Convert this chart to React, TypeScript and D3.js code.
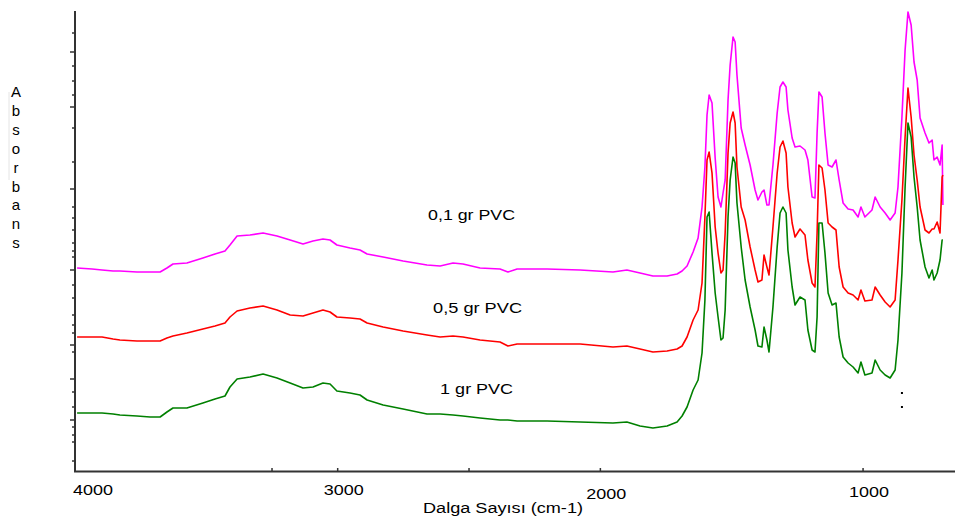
import * as d3 from "d3";

// shared wavenumber grid (cm-1)
const wavenumbers = [
  3992, 3935, 3897, 3855, 3829, 3764, 3714, 3676, 3650, 3627,
  3574, 3513, 3467, 3429, 3410, 3383, 3334, 3284, 3231, 3181,
  3132, 3094, 3056, 3029, 3003, 2953, 2915, 2888, 2827, 2751,
  2660, 2610, 2561, 2523, 2458, 2382, 2352, 2317, 2203, 2077,
  1952, 1899, 1849, 1800, 1746, 1708, 1689, 1670, 1647, 1628,
  1613, 1602, 1594, 1586, 1575, 1563, 1552, 1541, 1533, 1525,
  1514, 1506, 1495, 1487, 1480, 1464, 1449, 1430, 1411, 1400,
  1385, 1377, 1366, 1358, 1343, 1327, 1316, 1305, 1293, 1286,
  1270, 1259, 1240, 1221, 1210, 1194, 1183, 1175, 1168, 1156,
  1145, 1133, 1118, 1103, 1091, 1076, 1057, 1038, 1019, 1008,
  993, 966, 954, 935, 916, 897, 878, 867, 852, 840,
  829, 817, 806, 794, 783, 764, 749, 737, 730, 718,
  707, 699, 696,
];

const pvc01 = [
  2.03, 2.02, 2.01, 2.00, 2.00, 1.99, 1.99, 1.99, 2.03, 2.07,
  2.08, 2.13, 2.17, 2.20, 2.26, 2.35, 2.36, 2.38, 2.35, 2.31,
  2.27, 2.30, 2.32, 2.31, 2.26, 2.23, 2.21, 2.17, 2.14, 2.10,
  2.06, 2.05, 2.08, 2.07, 2.03, 2.02, 1.99, 2.02, 2.02, 2.01,
  1.99, 2.01, 1.98, 1.95, 1.95, 1.97, 2.00, 2.05, 2.19, 2.33,
  2.64, 3.04, 3.56, 3.76, 3.68, 3.13, 2.74, 2.64, 2.78, 2.91,
  3.71, 4.06, 4.34, 4.29, 3.96, 3.43, 3.26, 3.06, 2.81, 2.71,
  2.79, 2.81, 2.66, 2.66, 3.06, 3.58, 3.84, 3.89, 3.84, 3.61,
  3.33, 3.24, 3.25, 3.21, 3.11, 2.74, 2.73, 3.38, 3.79, 3.74,
  3.38, 3.06, 3.04, 3.11, 2.91, 2.68, 2.62, 2.61, 2.54, 2.64,
  2.54, 2.61, 2.74, 2.64, 2.58, 2.51, 2.58, 2.84, 3.54, 4.21,
  4.59, 4.46, 4.09, 3.91, 3.53, 3.38, 3.28, 3.31, 3.11, 3.14,
  3.06, 3.26, 2.66,
];

const pvc05 = [
  1.34, 1.34, 1.34, 1.32, 1.31, 1.30, 1.30, 1.30, 1.33, 1.35,
  1.38, 1.42, 1.45, 1.48, 1.54, 1.60, 1.63, 1.65, 1.61, 1.56,
  1.55, 1.58, 1.61, 1.59, 1.54, 1.53, 1.52, 1.48, 1.44, 1.40,
  1.36, 1.34, 1.35, 1.34, 1.31, 1.29, 1.25, 1.27, 1.27, 1.27,
  1.24, 1.25, 1.22, 1.19, 1.20, 1.22, 1.25, 1.34, 1.51, 1.61,
  1.88, 2.54, 3.11, 3.19, 2.98, 2.44, 2.18, 1.98, 2.01, 2.38,
  3.18, 3.48, 3.59, 3.48, 3.04, 2.64, 2.51, 2.24, 2.01, 1.89,
  1.91, 2.16, 2.04, 1.96, 2.44, 2.98, 3.24, 3.30, 3.18, 2.84,
  2.48, 2.34, 2.42, 2.36, 2.11, 1.88, 1.84, 2.38, 3.06, 3.03,
  2.81, 2.48, 2.44, 2.41, 2.04, 1.84, 1.78, 1.76, 1.71, 1.81,
  1.70, 1.71, 1.84, 1.76, 1.69, 1.64, 1.71, 2.11, 2.71, 3.34,
  3.83, 3.54, 3.16, 2.91, 2.64, 2.41, 2.38, 2.42, 2.42, 2.49,
  2.38, 2.94, 2.96,
];

const pvc1 = [
  0.58, 0.58, 0.58, 0.57, 0.56, 0.55, 0.54, 0.54, 0.59, 0.63,
  0.63, 0.68, 0.72, 0.75, 0.84, 0.92, 0.94, 0.97, 0.93, 0.88,
  0.83, 0.84, 0.88, 0.87, 0.80, 0.78, 0.76, 0.71, 0.66, 0.62,
  0.57, 0.57, 0.56, 0.55, 0.53, 0.51, 0.51, 0.50, 0.50, 0.49,
  0.48, 0.49, 0.45, 0.43, 0.45, 0.49, 0.55, 0.64, 0.81, 0.91,
  1.18, 1.71, 2.54, 2.59, 2.18, 1.78, 1.54, 1.31, 1.33, 1.61,
  2.54, 2.91, 3.14, 3.08, 2.68, 2.24, 1.91, 1.64, 1.41, 1.25,
  1.24, 1.44, 1.31, 1.19, 1.64, 2.24, 2.58, 2.64, 2.58, 2.21,
  1.84, 1.66, 1.74, 1.71, 1.41, 1.21, 1.19, 1.54, 2.48, 2.48,
  2.18, 1.78, 1.66, 1.68, 1.34, 1.14, 1.08, 1.04, 0.98, 1.09,
  0.96, 0.98, 1.11, 1.01, 0.96, 0.93, 1.01, 1.31, 1.98, 2.84,
  3.48, 3.34, 2.94, 2.64, 2.31, 2.04, 1.93, 2.01, 1.91, 1.98,
  2.11, 2.31, 2.31,
];

const seriesNames = ["0,1 gr PVC", "0,5 gr PVC", "1 gr PVC"];
const xTickLabels = [4000, 3000, 2000, 1000];
const xMinorTicks = [3250, 3000, 2500, 2000, 1000];
const yTicks = [
  4.38, 4.19, 4.05, 3.9, 3.76, 3.64, 3.43, 3.09, 2.82, 2.64, 2.53, 2.41, 2.28,
  2.2, 2.14, 2.01, 1.86, 1.73, 1.56, 1.46, 1.38, 1.26, 1.19, 0.92, 0.79, 0.64,
  0.51, 0.44, 0.36, 0.29, 0.1,
];
const yMajorTicks = [4.19, 3.64, 2.82, 2.01, 1.26, 0.92, 0.51];
const strayDots = [[852, 0.78], [852, 0.64]];

// label anchors in data units (left edge, baseline)
const labelAt = [[2656, 2.51], [2637, 1.58], [2610, 0.77]];
const labelWidths = [87, 89, 73];
const colors = ["#ff00ff", "#ff0000", "#008000"];

const W = 955;
const H = 521;
const font = "'Liberation Sans', Arial, sans-serif";

export default function App() {
  const x = d3.scaleLinear().domain([4000, 650]).range([75, 955]);
  const y = d3.scaleLinear().domain([0, 4.61]).range([471, 10]);

  const line = d3
    .line<[number, number]>()
    .x((d) => x(d[0]))
    .y((d) => y(d[1]));

  const series = [pvc01, pvc05, pvc1].map((vals) =>
    vals.map((v, i) => [wavenumbers[i], v] as [number, number])
  );

  const yLetters = "Absorbans".split("");

  return (
    <svg
      width={W}
      height={H}
      style={{ position: "absolute", left: 0, top: 0, background: "#fff" }}
      fontFamily={font}
    >
      {/* faint rule beside the y title */}
      <line x1={9} x2={9} y1={92} y2={180} stroke="#e4e4e4" strokeWidth={1} />

      {series.map((s, i) => (
        <path
          key={seriesNames[i]}
          d={line(s) ?? ""}
          fill="none"
          stroke={colors[i]}
          strokeWidth={1.6}
          strokeLinejoin="round"
        />
      ))}

      {strayDots.map((d, i) => (
        <rect key={i} x={x(d[0]) - 1} y={y(d[1]) - 1} width={2} height={2} fill="#000" />
      ))}

      {/* y axis */}
      <line x1={75} x2={75} y1={11} y2={472} stroke="#333" strokeWidth={2} />
      {yTicks.map((t) => (
        <line
          key={t}
          x1={yMajorTicks.includes(t) ? 70 : 72}
          x2={75}
          y1={y(t)}
          y2={y(t)}
          stroke="#333"
          strokeWidth={1.5}
        />
      ))}

      {/* x axis */}
      <line x1={74} x2={W} y1={471.5} y2={471.5} stroke="#333" strokeWidth={2} />
      {xMinorTicks.map((t) => (
        <line key={t} x1={x(t)} x2={x(t)} y1={468} y2={471} stroke="#333" strokeWidth={1.5} />
      ))}
      {xTickLabels.map((t, i) => (
        <text
          key={t}
          x={i === 0 ? x(t) - 2 : x(t) - 14}
          y={t === 2000 ? 499 : t === 1000 ? 497 : 495}
          fontSize={15}
          textLength={40}
          lengthAdjust="spacingAndGlyphs"
          fill="#000"
        >
          {t}
        </text>
      ))}
      <text x={423} y={513} fontSize={14} textLength={160} lengthAdjust="spacingAndGlyphs" fill="#000">
        Dalga Sayısı (cm-1)
      </text>

      {/* y title, stacked letters */}
      {yLetters.map((c, i) => (
        <text key={i} x={16} y={97 + i * 18.9} fontSize={15} textAnchor="middle" fill="#000">
          {c}
        </text>
      ))}

      {/* series labels */}
      {seriesNames.map((n, i) => (
        <text
          key={n}
          x={x(labelAt[i][0])}
          y={y(labelAt[i][1])}
          fontSize={14}
          textLength={labelWidths[i]}
          lengthAdjust="spacingAndGlyphs"
          fill="#000"
        >
          {n}
        </text>
      ))}
    </svg>
  );
}
